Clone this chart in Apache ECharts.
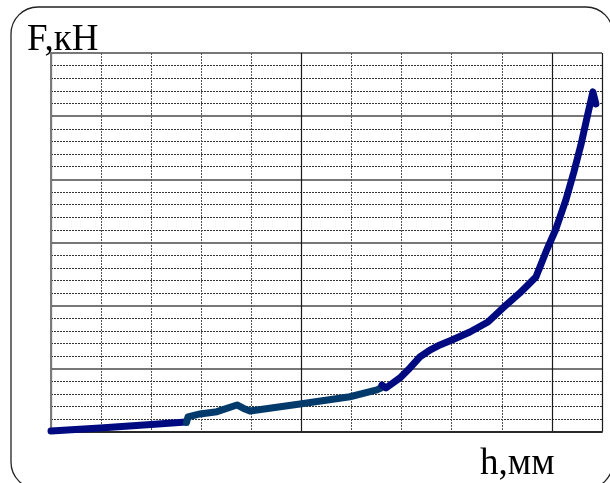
<!DOCTYPE html>
<html>
<head>
<meta charset="utf-8">
<script src="https://cdn.jsdelivr.net/npm/echarts@6/dist/echarts.min.js"></script>
<style>
  html, body { margin: 0; padding: 0; background: #fff; }
  #chart { width: 610px; height: 483px; }
</style>
</head>
<body>
<div id="chart"></div>
<script>
// Load–displacement record, F (kN) against h (mm), in grid units.
// The trace was logged in three pieces; the middle one has its own colour.
const segmentA = [
  [0.000, 0.08], [0.978, 0.32], [1.996, 0.59], [2.695, 0.79]
];
const segmentB = [
  [2.705, 0.75], [2.735, 1.19], [2.974, 1.43], [3.313, 1.61], [3.713, 2.14],
  [3.872, 1.82], [3.972, 1.66], [4.970, 2.22], [5.968, 2.79], [6.507, 3.33],
  [6.587, 3.48]
];
const segmentC = [
  [6.607, 3.72], [6.687, 3.48], [6.966, 4.28], [7.166, 5.07], [7.365, 5.94],
  [7.565, 6.49], [7.764, 6.89], [8.004, 7.28], [8.363, 7.92], [8.723, 8.71],
  [9.022, 9.82], [9.361, 11.01], [9.681, 12.27], [9.880, 14.25],
  [10.080, 16.07], [10.279, 18.37], [10.439, 20.59], [10.579, 22.72],
  [10.699, 24.86], [10.818, 26.92], [10.878, 25.97]
];
const axisTitleY = 'F,кН';
const axisTitleX = 'h,мм';

const chart = echarts.init(document.getElementById('chart'), null, { renderer: 'canvas' });

const dotted = { color: '#333', width: 1, type: [2, 1] };
const dottedV = { color: '#555', width: 1, type: [2, 1] };

const traceLine = (data, color) => ({
  type: 'line',
  xAxisIndex: 0,
  yAxisIndex: 0,
  data: data,
  symbol: 'none',
  smooth: false,
  animation: false,
  lineStyle: { color: color, width: 7, cap: 'round', join: 'round' },
  z: 5
});

chart.setOption({
  animation: false,
  grid: { left: 51, top: 53, right: 8, bottom: 51, containLabel: false },
  xAxis: [
    {
      type: 'value', min: 0, max: 11, interval: 1, position: 'bottom',
      axisLine: { show: true, lineStyle: { color: '#7a7a7a', width: 2 } },
      axisTick: { show: false }, axisLabel: { show: false },
      splitLine: { show: true, lineStyle: dottedV }
    },
    {
      type: 'value', min: 0, max: 11, interval: 5, position: 'top',
      axisLine: { show: true, lineStyle: { color: '#111', width: 1.5 } },
      axisTick: { show: false }, axisLabel: { show: false },
      splitLine: { show: true, lineStyle: { color: '#1a1a1a', width: 1.2 } }
    }
  ],
  yAxis: [
    {
      type: 'value', min: 0, max: 30, interval: 1, position: 'left',
      axisLine: { show: true, lineStyle: { color: '#7a7a7a', width: 2 } },
      axisTick: { show: false }, axisLabel: { show: false },
      splitLine: { show: true, lineStyle: dotted }
    },
    {
      type: 'value', min: 0, max: 30, interval: 5, position: 'left',
      axisLine: { show: false },
      axisTick: { show: false }, axisLabel: { show: false },
      splitLine: { show: true, lineStyle: { color: '#777', width: 2 } }
    }
  ],
  series: [
    traceLine(segmentA, '#000a80'),
    traceLine(segmentB, '#033a6c'),
    traceLine(segmentC, '#000a80')
  ],
  graphic: [
    {
      type: 'rect', silent: true, z: 0,
      shape: { x: 11, y: 7, width: 602, height: 482, r: 27 },
      style: { fill: 'none', stroke: '#222', lineWidth: 1.3 }
    },
    {
      type: 'text', left: 27, top: 22, z: 10,
      style: {
        text: axisTitleY, fill: '#000',
        font: '37px "Liberation Serif", "Times New Roman", serif'
      }
    },
    {
      type: 'text', left: 480, top: 446, z: 10,
      style: {
        text: axisTitleX, fill: '#000',
        font: '37px "Liberation Serif", "Times New Roman", serif'
      }
    }
  ]
});
</script>
</body>
</html>
